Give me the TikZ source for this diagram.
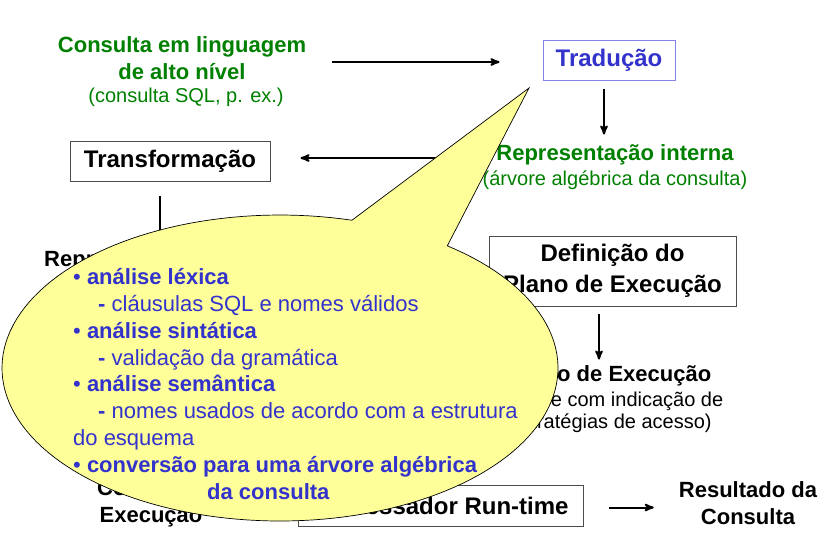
\documentclass[tikz,border=0pt]{standalone}
\usepackage{fontspec}
\setmainfont{Liberation Sans}
\usetikzlibrary{arrows,positioning,calc}
\definecolor{verde}{RGB}{0,128,0}
\definecolor{azul}{RGB}{51,51,204}
\definecolor{azulclaro}{RGB}{130,130,235}
\definecolor{amarelo}{RGB}{255,255,153}
\begin{document}
\begin{tikzpicture}[x=1pt, y=-1pt, >=stealth',
        rotulo/.style={inner sep=0pt, align=center, font=\fontsize{22}{27}\selectfont\bfseries},
        nota/.style={inner sep=0pt, align=center, font=\fontsize{20}{22}\selectfont},
        caixa/.style={draw=black!70, line width=1pt, inner sep=0pt, align=center,
          font=\fontsize{24}{31}\selectfont\bfseries},
        seta/.style={->, line width=2pt},
        balao/.style={fill=amarelo, draw=black, line width=0.7pt}]
        \useasboundingbox (0,0) rectangle (837,542);
        % fluxo do processamento
        \node[rotulo, text=verde] at (182,58) (consulta) {Consulta em linguagem\\de alto nível};
        \node[nota, text=verde] at (186,97) (consultaSub) {(consulta SQL, p. ex.)};
        \node[caixa, draw=azulclaro, text=azul, minimum width=132pt, minimum height=40pt] at (609,60) (traducao) {Tradução};
        \node[rotulo, text=verde] at (615,155) (repint) {Representação interna};
        \node[nota, text=verde] at (615,180) (repintSub) {(árvore algébrica da consulta)};
        \node[caixa, minimum width=200pt, minimum height=40pt] at (170,161) (transf) {Transformação};
        \node[rotulo, anchor=west] at (44,261) (repopt) {Representação otimizada};
        \node[nota] at (176,286) (repoptSub) {(árvore algébrica otimizada)};
        \node[caixa, minimum width=247pt, minimum height=70pt] at (612.5,271) (defplano) {Definição do\\Plano de Execução};
        \node[rotulo] at (611,376) (plano) {Plano de Execução};
        \node[nota] at (611,412) (planoSub) {(árvore com indicação de\\estratégias de acesso)};
        \node[rotulo] at (151,503) (codigo) {Código de\\Execução};
        \node[caixa, minimum width=285pt, minimum height=41pt] at (440.5,505.5) (proc) {Processador Run-time};
        \node[rotulo] at (748,503) (result) {Resultado da\\Consulta};
        \draw[seta, shorten <=26pt, shorten >=43pt] ([yshift=-2pt]consulta.east |- traducao.west) -- ([yshift=-2pt]traducao.west);
        \draw[seta, shorten <=8pt, shorten >=10pt] ([xshift=-5pt]traducao.south) -- ([xshift=-5pt]traducao.south |- repint.north);
        \draw[seta, shorten <=14pt, shorten >=30pt] ([yshift=3pt]repint.west |- transf.east) -- ([yshift=3pt]transf.east);
        \draw[seta, shorten <=14pt] ([xshift=-10pt]transf.south) -- ([xshift=-10pt]transf.south |- repopt.north);
        \draw[seta, shorten <=7pt, shorten >=6pt] ([xshift=-13.5pt]defplano.south) -- ([xshift=-13.5pt]defplano.south |- plano.north);
        \draw[seta, shorten <=25pt, shorten >=25pt] ([yshift=-2pt]proc.east) -- ([yshift=-2pt]proc.east -| result.west);
        % balao da traducao
        \filldraw[balao] plot[domain=-53:285, samples=150] ({280+278*cos(\x)}, {368+153*sin(\x)})
          -- (529,88) -- cycle;
        \node[inner sep=0pt, anchor=north west, align=left, text=azul,
          font=\fontsize{22}{26.9}\selectfont] at (73,268) (itens) {%
          \textbullet\ \textbf{análise léxica}\\
          \hspace*{25pt}\textbf{-} cláusulas SQL e nomes válidos\\
          \textbullet\ \textbf{análise sintática}\\
          \hspace*{25pt}\textbf{-} validação da gramática\\
          \textbullet\ \textbf{análise semântica}\\
          \hspace*{25pt}\textbf{-} nomes usados de acordo com a estrutura\\
          do esquema\\
          \textbullet\ \textbf{conversão para uma árvore algébrica}\\
          \hspace*{134pt}\textbf{da consulta}};
      \end{tikzpicture}
\end{document}
